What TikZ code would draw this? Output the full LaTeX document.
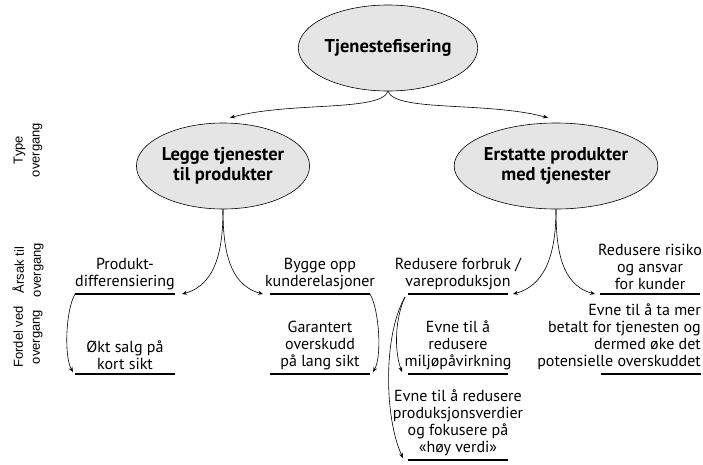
\documentclass[tikz,border=0pt]{standalone}
\usepackage{fontspec}
\setmainfont{PT Sans}
\newfontfamily\sidefont{Liberation Sans}
\usetikzlibrary{shapes.geometric,arrows.meta}

\begin{document}
\begin{tikzpicture}[x=1pt, y=1pt,
    oval/.style = {draw, ellipse, fill=black!10, line width=0.6pt, minimum width=166pt, minimum height=86pt, inner sep=0pt, align=center, font=\fontsize{18.5}{20}\selectfont\bfseries},
    col/.style = {align=center, anchor=south, inner xsep=0pt, inner ysep=4pt, font=\fontsize{16}{17}\selectfont},
    side/.style = {rotate=90, align=center, font=\sidefont\fontsize{13}{17}\selectfont},
    arr/.style = {-{Stealth[length=5pt,width=4pt]}, line width=0.6pt},
    rule/.style = {line width=1.2pt}]
    \useasboundingbox (0,0) rectangle (703,-464);

    % ellipses
    \node[oval] (top) at (388,-48) {Tjenestefisering};
    \node[oval] (legge) at (223,-166) {Legge tjenester\\til produkter};
    \node[oval] (erst) at (556,-166) {Erstatte produkter\\med tjenester};

    % row labels
    \node[side] (type) at (28,-150) {Type\\overgang};
    \node[side] (arsak) at (28,-270) {Årsak til\\overgang};
    \node[side] (fordel) at (28,-337) {Fordel ved\\overgang};

    % reasons
    \node[col] (prod) at (125,-294) {Produkt-\\differensiering};
    \node[col] (bygg) at (320,-294) {Bygge opp\\kunderelasjoner};
    \node[col] (redu) at (458,-294) {Redusere forbruk /\\vareproduksjon};
    \node[col] (risk) at (650,-294) {Redusere risiko\\og ansvar\\for kunder};

    % benefits
    \node[col] (okt) at (125,-374) {Økt salg på\\kort sikt};
    \node[col] (gar) at (320,-374) {Garantert\\overskudd\\på lang sikt};
    \node[col] (milj) at (458,-374) {Evne til å\\redusere\\miljøpåvirkning};
    \node[col] (hoy) at (458,-460) {Evne til å redusere\\produksjonsverdier\\og fokusere på\\«høy verdi»};
    \node[col, align=right, anchor=south east] (betal) at (701,-374) {Evne til å ta mer\\betalt for tjenesten og\\dermed øke det\\potensielle overskuddet};

    \foreach \n in {prod,bygg,redu,risk,okt,gar,milj,hoy}
        \draw[rule] ([xshift=-50pt]\n.south) -- ([xshift=50pt]\n.south);
    \draw[rule] ([xshift=-100pt]betal.south east) -- (betal.south east);

    % arrows
    \draw[arr] (top.south) to[out=-110, in=15, out looseness=0.35] ([shift={(7,5)}]legge.north);
    \draw[arr] (top.south) to[out=-70, in=165, out looseness=0.35] ([shift={(-8,5)}]erst.north);
    \draw[arr] (legge.south) to[out=-90, in=15] ([xshift=57pt]prod.south);
    \draw[arr] (legge.south) to[out=-90, in=165] ([xshift=-57pt]bygg.south);
    \draw[arr] (erst.south) to[out=-90, in=15] ([xshift=55pt]redu.south);
    \draw[arr] (erst.south) to[out=-90, in=165] ([xshift=-55pt]risk.south);
    \draw[arr] ([xshift=-50pt]prod.south) to[out=-120, in=120, looseness=0.6] ([shift={(-52,2)}]okt.south);
    \draw[arr] ([xshift=50pt]bygg.south) to[out=-60, in=60, looseness=0.6] ([shift={(53,2)}]gar.south);
    \draw[arr] ([shift={(-53,-3)}]redu.south) to[out=-115, in=110, looseness=0.8] ([shift={(-56,2)}]milj.south);
    \draw[arr] ([shift={(-53,-3)}]redu.south) to[out=-120, in=115, looseness=0.7] ([shift={(-55,2)}]hoy.south);
\end{tikzpicture}
\end{document}
